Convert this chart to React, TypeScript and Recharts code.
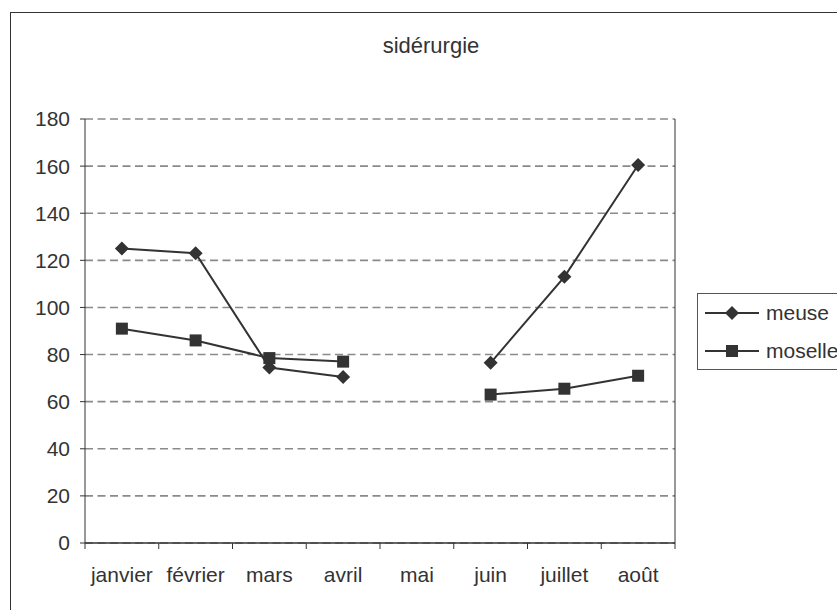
import { LineChart, Line, XAxis, YAxis, CartesianGrid, ReferenceLine } from 'recharts'

/* ── Data ────────────────────────────────────────────────────────────── */

const MONTHS = ['janvier', 'février', 'mars', 'avril', 'mai', 'juin', 'juillet', 'août']
const MEUSE = [125, 123, 74.5, 70.5, null, 76.5, 113, 160.5]
const MOSELLE = [91, 86, 78.5, 77, null, 63, 65.5, 71]
const Y_TICKS = [0, 20, 40, 60, 80, 100, 120, 140, 160, 180]

const INK = '#333333'
const FONT = '"Liberation Sans", Arial, sans-serif'
const FS = 21

// categories sit in the middle of each band, so the x axis is numeric
// with boundary ticks on the integers and labels on the halves
const data = MONTHS.map((m, i) => ({ pos: i + 0.5, month: m, meuse: MEUSE[i], moselle: MOSELLE[i] }))
const X_TICKS = Array.from({ length: MONTHS.length * 2 + 1 }, (_, i) => i / 2)

/* ── Markers ────────────────────────────────────────────────────────── */

function Diamond({ cx, cy }: { cx?: number; cy?: number }) {
  if (cx == null || cy == null) return null
  const r = 7
  return <polygon points={`${cx},${cy - r} ${cx + r},${cy} ${cx},${cy + r} ${cx - r},${cy}`} fill={INK} />
}

function Square({ cx, cy }: { cx?: number; cy?: number }) {
  if (cx == null || cy == null) return null
  const s = 12
  return <rect x={cx - s / 2} y={cy - s / 2} width={s} height={s} fill={INK} />
}

/* ── X tick: boundary line or month label ───────────────────────────── */

function MonthTick({ x, y, payload }: { x?: number; y?: number; payload?: { value: number } }) {
  if (x == null || y == null || !payload) return null
  const v = payload.value
  if (Number.isInteger(v)) {
    return <line x1={x} x2={x} y1={y} y2={y + 6} stroke={INK} strokeWidth={1} />
  }
  return (
    <text x={x} y={y + 39} textAnchor="middle" fill={INK} fontSize={FS} fontFamily={FONT}>
      {MONTHS[Math.floor(v)]}
    </text>
  )
}

/* ── Legend (plain html, boxed like the spreadsheet one) ────────────── */

function LegendBox() {
  const rows = [
    { name: 'meuse', Mark: Diamond },
    { name: 'moselle', Mark: Square },
  ]
  return (
    <div
      style={{
        position: 'absolute',
        left: 697,
        top: 293,
        width: 160,
        height: 75,
        border: '1px solid #555',
        background: '#fff',
        fontFamily: FONT,
        fontSize: FS,
        color: INK,
      }}
    >
      {rows.map(({ name, Mark }, i) => (
        <div key={name} style={{ position: 'absolute', left: 7, top: 5 + i * 38, height: 28, display: 'flex', alignItems: 'center' }}>
          <svg width={54} height={28}>
            <line x1={0} x2={54} y1={14} y2={14} stroke={INK} strokeWidth={2} />
            <Mark cx={27} cy={14} />
          </svg>
          <span style={{ marginLeft: 7 }}>{name}</span>
        </div>
      ))}
    </div>
  )
}

/* ── Chart ──────────────────────────────────────────────────────────── */

export default function App() {
  return (
    <div style={{ position: 'absolute', left: 0, top: 0, width: 837, height: 610, overflow: 'hidden', background: '#fff' }}>
      <div style={{ position: 'absolute', left: 10, top: 12, width: 900, height: 700, border: `1px solid ${INK}` }} />
      <div
        style={{
          position: 'absolute',
          left: 331,
          width: 200,
          top: 33,
          textAlign: 'center',
          fontFamily: FONT,
          fontSize: 22,
          color: INK,
        }}
      >
        sidérurgie
      </div>

      <div style={{ position: 'absolute', left: 0, top: 0 }}>
        <LineChart width={837} height={610} data={data} margin={{ top: 119, right: 162, left: 0, bottom: 27 }}>
          <CartesianGrid vertical={false} stroke="#8a8a8a" strokeDasharray="8 4.5" strokeWidth={1.6} />
          <XAxis
            dataKey="pos"
            type="number"
            domain={[0, MONTHS.length]}
            ticks={X_TICKS}
            interval={0}
            height={40}
            tickSize={0}
            tickMargin={0}
            tickLine={false}
            axisLine={{ stroke: INK, strokeWidth: 1.5 }}
            tick={<MonthTick />}
          />
          <YAxis
            domain={[0, 180]}
            ticks={Y_TICKS}
            interval={0}
            width={85}
            tickSize={5}
            tickMargin={10}
            axisLine={{ stroke: INK }}
            tickLine={{ stroke: INK }}
            tick={{ fill: INK, fontSize: FS, fontFamily: FONT }}
          />
          <ReferenceLine x={MONTHS.length} stroke={INK} strokeWidth={1} />
          <Line
            dataKey="meuse"
            type="linear"
            stroke={INK}
            strokeWidth={2}
            dot={<Diamond />}
            activeDot={false}
            isAnimationActive={false}
          />
          <Line
            dataKey="moselle"
            type="linear"
            stroke={INK}
            strokeWidth={2}
            dot={<Square />}
            activeDot={false}
            isAnimationActive={false}
          />
        </LineChart>
      </div>

      <LegendBox />
    </div>
  )
}
